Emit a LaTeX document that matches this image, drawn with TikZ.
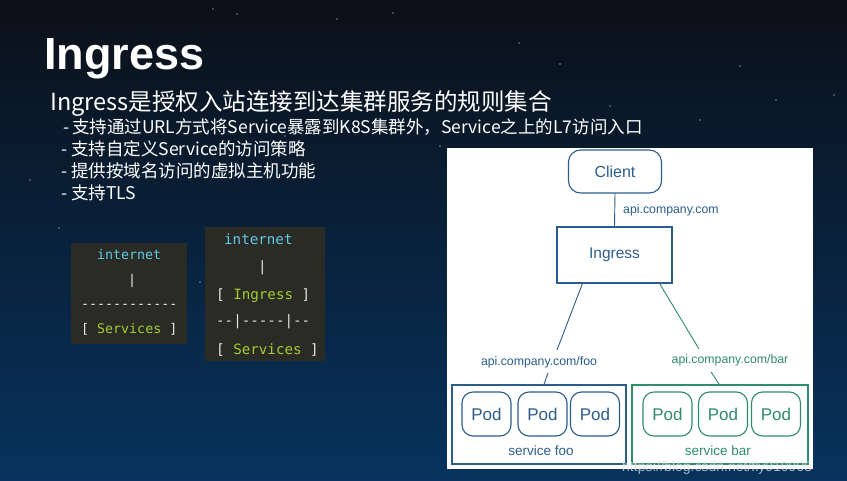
\documentclass[tikz,border=0pt]{standalone}
\usepackage{fontspec}
\setmainfont{Liberation Sans}
\newfontfamily\cjk{Noto Sans CJK SC}
\newfontfamily\codef{DejaVu Sans Mono}
\usetikzlibrary{calc}
\definecolor{bgtop}{HTML}{0B1018}
\definecolor{bgmid}{HTML}{0B2238}
\definecolor{bgbot}{HTML}{07335E}
\definecolor{codebg}{HTML}{2A2B25}
\definecolor{codec}{HTML}{5EC8E8}
\definecolor{codeg}{HTML}{A2CD2E}
\definecolor{codew}{HTML}{E6E6E6}
\definecolor{dblue}{HTML}{2B5D8C}
\definecolor{dgreen}{HTML}{2F8C6E}
\tikzset{
  txt/.style={anchor=base west, inner sep=0pt, text=white},
  code/.style={anchor=base west, inner sep=0pt, text=codew},
  bluebox/.style={draw=dblue, line width=1.1pt, text=dblue, inner sep=0pt},
  greenbox/.style={draw=dgreen, line width=1.1pt, text=dgreen, inner sep=0pt},
  podb/.style={bluebox, rounded corners=11pt, minimum width=49pt, minimum height=44pt, font=\fontsize{17}{20}\selectfont},
  podg/.style={greenbox, rounded corners=11pt, minimum width=49pt, minimum height=44pt, font=\fontsize{17}{20}\selectfont},
  lbl/.style={inner sep=0pt, font=\fontsize{12.3}{14}\selectfont},
  star/.style={fill=white, opacity=0.45}
}
\begin{document}
\begin{tikzpicture}[x=1pt,y=-1pt]
\useasboundingbox (0,0) rectangle (847,481);
\shade[top color=bgtop, middle color=bgmid, bottom color=bgbot] (0,0) rectangle (847,481);
% stars
\foreach \p in {(213,9),(237,14),(337,19),(393,13),(519,43),(560,64),(740,66),(776,100),(834,95),(59,228),(80,289),(200,282),(285,136),(440,146),(610,106),(700,120),(30,180),(157,340)}
  \fill[star] \p circle (0.9);
% title and text
\node[txt, font=\bfseries\fontsize{45}{50}\selectfont] (title) at (44,70) {Ingress};
\node[txt, font=\cjk\fontsize{23.5}{26}\selectfont] (sub) at (50,111) {Ingress是授权入站连接到达集群服务的规则集合};
\node[txt, font=\cjk\fontsize{17.5}{20}\selectfont] (b1) at (63,134) {-\,支持通过URL方式将Service暴露到K8S集群外，Service之上的L7访问入口};
\node[txt, font=\cjk\fontsize{17.5}{20}\selectfont] (b2) at (61,156) {- 支持自定义Service的访问策略};
\node[txt, font=\cjk\fontsize{17.5}{20}\selectfont] (b3) at (61,178) {- 提供按域名访问的虚拟主机功能};
\node[txt, font=\cjk\fontsize{17.5}{20}\selectfont] (b4) at (61,200) {- 支持TLS};
% code box 1
\fill[codebg] (71,243) rectangle (187,344);
\begin{scope}[font=\codef\fontsize{13.3}{15}\selectfont]
\node[code, text=codec] (c1a) at (97,260) {internet};
\node[code] (c1b) at (128,285) {|};
\node[code] (c1c) at (81,309) {------------};
\node[code] (c1d) at (81,334) {[ \textcolor{codeg}{Services} ]};
\end{scope}
% code box 2
\fill[codebg] (205,227) rectangle (325,361);
\begin{scope}[font=\codef\fontsize{14.2}{16}\selectfont]
\node[code, text=codec] (c2a) at (224,245) {internet};
\node[code] (c2b) at (258,272) {|};
\node[code] (c2c) at (216,300) {[ \textcolor{codeg}{Ingress} ]};
\node[code] (c2d) at (216,326) {--|-----|--};
\node[code] (c2e) at (216,355) {[ \textcolor{codeg}{Services} ]};
\end{scope}
% diagram panel
\fill[white] (447,148) rectangle (813,469);
\node[bluebox, rounded corners=12pt, minimum width=93pt, minimum height=43pt, font=\fontsize{16}{18}\selectfont] (client) at (615,171.5) {Client};
\node[bluebox, minimum width=115pt, minimum height=56pt, font=\fontsize{15.5}{18}\selectfont] (ing) at (614.5,255) {Ingress};
\node[lbl, text=dblue, anchor=west] (lapi) at (623,210) {api.company.com};
\node[lbl, text=dblue] (lfoo) at (539,362) {api.company.com/foo};
\node[lbl, text=dgreen] (lbar) at (730,360) {api.company.com/bar};
\node[bluebox, minimum width=174pt, minimum height=79pt] (sfoo) at (539,424.5) {};
\node[greenbox, minimum width=176pt, minimum height=79pt] (sbar) at (720,424.5) {};
\node[podb] (pf1) at (486.5,414) {Pod};
\node[podb] (pf2) at (542.5,414) {Pod};
\node[podb] (pf3) at (595,414) {Pod};
\node[podg] (pb1) at (667.5,414) {Pod};
\node[podg] (pb2) at (723,414) {Pod};
\node[podg] (pb3) at (776,414) {Pod};
\node[inner sep=0pt, text=dblue, font=\fontsize{13.5}{15}\selectfont] (nfoo) at (541,451) {service foo};
\node[inner sep=0pt, text=dgreen, font=\fontsize{13.5}{15}\selectfont] (nbar) at (718,451) {service bar};
% connectors
\draw[dblue, line width=0.9pt] (client.south) -- (ing.north);
\draw[dblue, line width=0.9pt] ($(ing.south west)+(26,0)$) -- ($(lfoo.center)+(18,-12)$);
\draw[dblue, line width=0.9pt] ($(lfoo.center)+(9,11)$) -- ($(sfoo.north)+(5,0)$);
\draw[dgreen, line width=0.9pt] ($(ing.south east)+(-13,0)$) -- ($(lbar.center)+(-31,-11)$);
\draw[dgreen, line width=0.9pt] ($(lbar.center)+(-19,12)$) -- ($(sbar.north)+(0,1)$);
% watermark
\node[anchor=base west, inner sep=0pt, text=white!80!gray, opacity=0.75, font=\fontsize{14}{16}\selectfont] (wm) at (622,471) {https://blog.csdn.net/fly910905};
\end{tikzpicture}
\end{document}
